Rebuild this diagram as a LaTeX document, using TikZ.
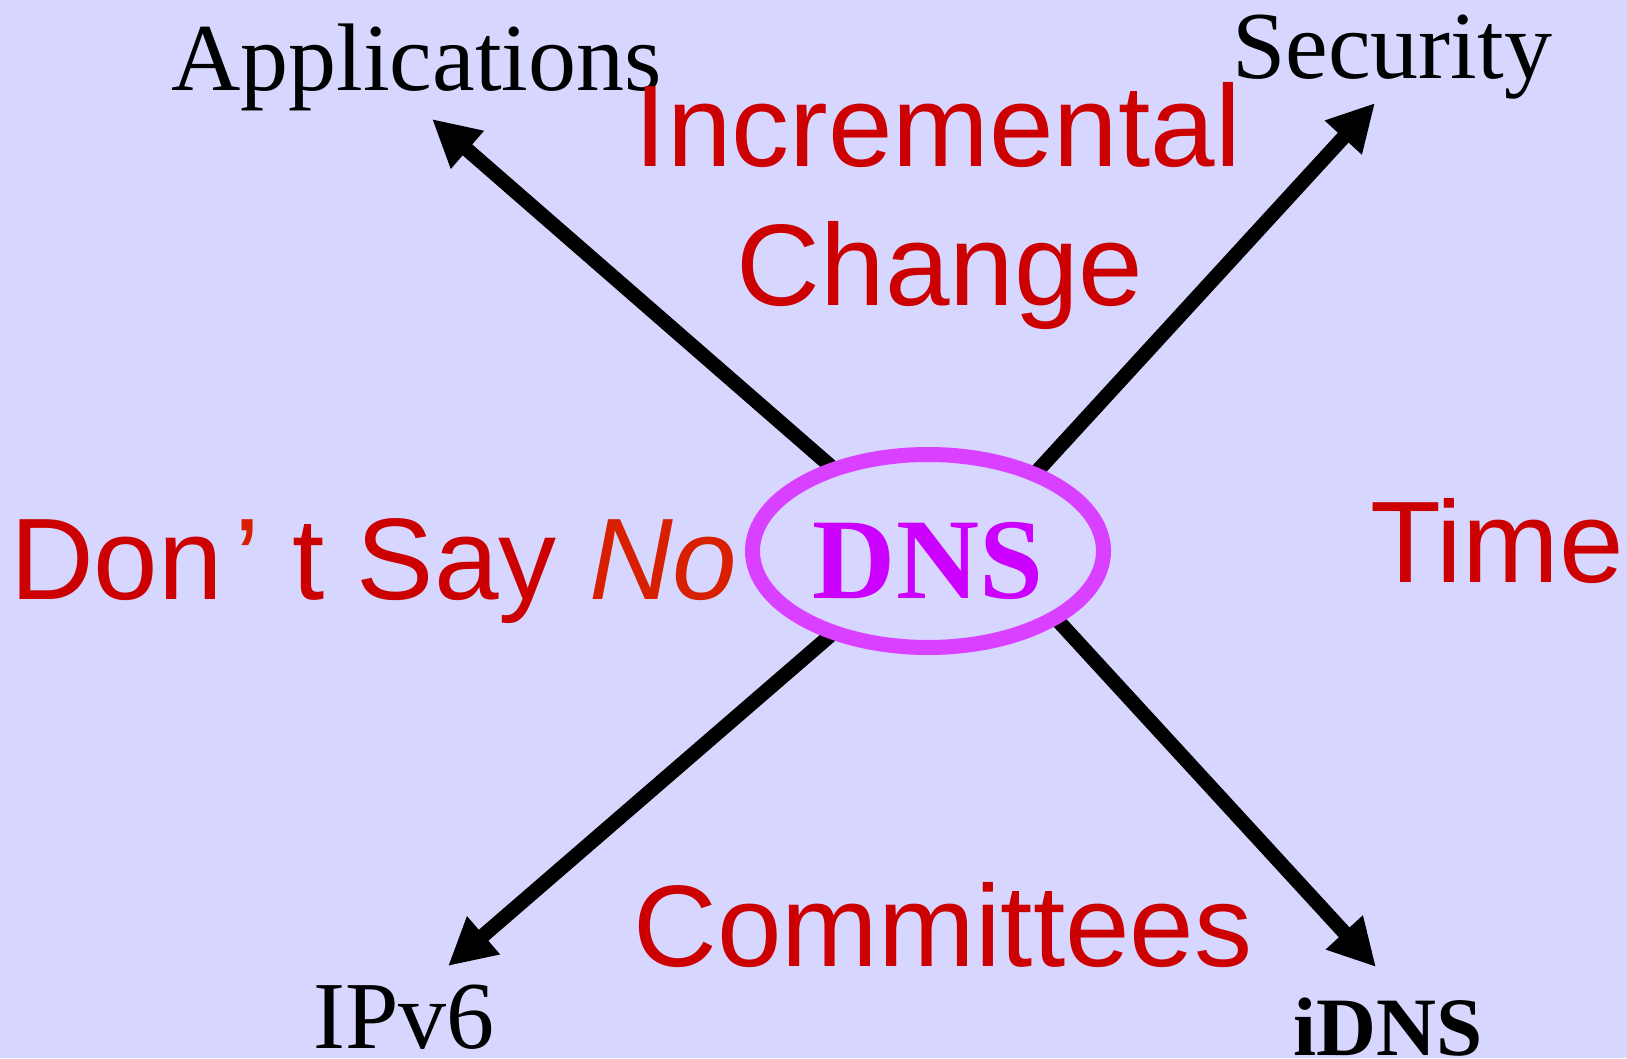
\documentclass[tikz,border=0pt]{standalone}
\usepackage{fontspec}
\setmainfont{Liberation Serif}
\setsansfont{Liberation Sans}
\usetikzlibrary{arrows.meta,shapes.geometric,backgrounds}
\definecolor{bgblue}{HTML}{D6D6FF}
\definecolor{ideared}{HTML}{CC0000}
\definecolor{noorange}{HTML}{D82000}
\definecolor{ringpink}{HTML}{DA40FF}
\definecolor{dnspurple}{HTML}{CC00FF}

\begin{document}
\begin{tikzpicture}[x=1pt, y=-1pt,
    topic/.style={inner sep=0pt, anchor=base west, font=\fontsize{96}{100}\selectfont},
    idea/.style={inner sep=0pt, text=ideared, font=\sffamily\fontsize{116}{120}\selectfont},
    pointer/.style={line width=14.5pt, -{Triangle[length=47pt,width=47pt]}}]
    \useasboundingbox (0,0) rectangle (1627,1058);

    % 中心
    \node[ellipse, draw=ringpink, fill=bgblue, line width=15pt, minimum width=351pt,
          minimum height=193pt, inner sep=0pt, text=dnspurple,
          font=\bfseries\fontsize{115}{120}\selectfont,
          text height=94pt, text depth=0pt] (dns) at (928,551) {DNS};

    % 四个方向
    \node[topic] (apps) at (171,90) {Applications};
    \node[topic] (sec) at (1232,78) {Security};
    \node[topic] (ipv6) at (313,1048) {IPv6};
    \node[topic, font=\bfseries\fontsize{83}{90}\selectfont] (idns) at (1293,1055) {iDNS};
    \coordinate (appsTip) at (432,119);
    \coordinate (secTip) at (1375,103);
    \coordinate (ipv6Tip) at (448,966);
    \coordinate (idnsTip) at (1376,967);

    \begin{pgfonlayer}{background}
        % 背景
        \fill[bgblue] (0,0) rectangle (1627,1058);
        % 箭头
        \foreach \dx/\t in {0/appsTip,36/secTip,0/ipv6Tip,66/idnsTip} {
            \draw[pointer] ([xshift=\dx pt]dns.center) -- (\t);
        }
    \end{pgfonlayer}

    % 红色文字
    \node[idea, anchor=base] (incr) at (938,166) {Incremental};
    \node[idea, anchor=base] (change) at (940,305) {Change};
    \node[idea, anchor=base west] (time) at (1370,582) {Time};
    \node[idea, anchor=base] (comm) at (943,966) {Committees};
    \node[idea, anchor=base west] (nosay) at (10,599)
        {Don\kern0.1em\textcolor{noorange}{’}\ t Say \textcolor{noorange}{\itshape No}};
\end{tikzpicture}
\end{document}
